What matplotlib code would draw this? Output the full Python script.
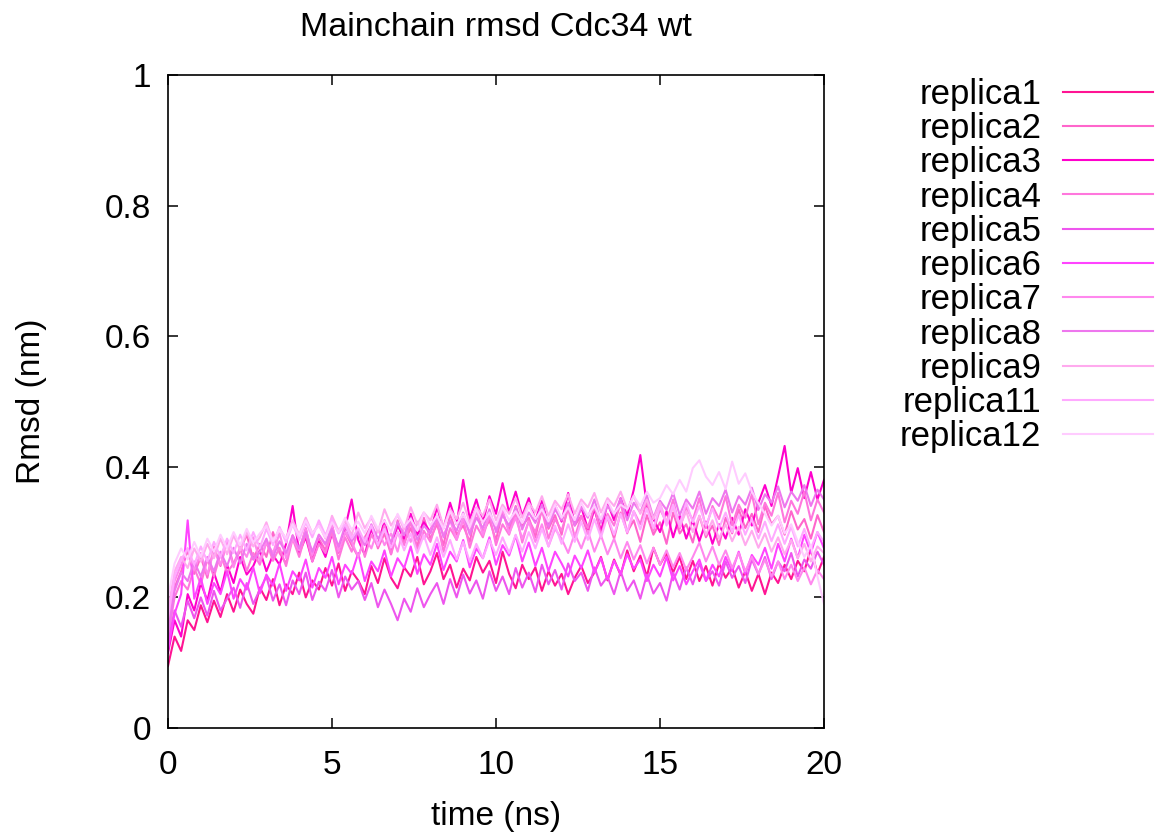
import numpy as np
import matplotlib
matplotlib.use("Agg")
import matplotlib.pyplot as plt

plt.rcParams['font.family'] = ['Liberation Sans', 'DejaVu Sans']
plt.rcParams['font.size'] = 24

# backbone rmsd (nm), one frame every 0.2 ns from 0 to 20 ns
time_ns = np.arange(101) * 0.2

replica1 = [
    0.095, 0.140, 0.118, 0.165, 0.150, 0.188, 0.162, 0.195, 0.170, 0.205,
    0.178, 0.212, 0.190, 0.175, 0.215, 0.196, 0.228, 0.188, 0.220, 0.205,
    0.238, 0.200, 0.226, 0.212, 0.245, 0.218, 0.252, 0.210, 0.240, 0.226,
    0.205, 0.248, 0.222, 0.260, 0.230, 0.214, 0.246, 0.232, 0.262, 0.220,
    0.240, 0.268, 0.228, 0.250, 0.215, 0.244, 0.226, 0.262, 0.238, 0.256,
    0.222, 0.270, 0.236, 0.214, 0.250, 0.228, 0.246, 0.210, 0.240, 0.218,
    0.236, 0.205, 0.230, 0.248, 0.222, 0.238, 0.262, 0.226, 0.258, 0.234,
    0.272, 0.240, 0.264, 0.232, 0.276, 0.250, 0.268, 0.238, 0.262, 0.228,
    0.256, 0.225, 0.248, 0.218, 0.252, 0.230, 0.246, 0.215, 0.240, 0.210,
    0.236, 0.205, 0.238, 0.222, 0.250, 0.228, 0.256, 0.240, 0.275, 0.236,
    0.262]
replica2 = [
    0.150, 0.215, 0.240, 0.272, 0.236, 0.262, 0.230, 0.278, 0.248, 0.285,
    0.250, 0.272, 0.296, 0.258, 0.282, 0.262, 0.300, 0.268, 0.252, 0.295,
    0.272, 0.306, 0.262, 0.290, 0.272, 0.312, 0.268, 0.300, 0.280, 0.262,
    0.292, 0.310, 0.275, 0.298, 0.266, 0.318, 0.284, 0.306, 0.278, 0.322,
    0.290, 0.312, 0.280, 0.328, 0.296, 0.310, 0.285, 0.335, 0.300, 0.318,
    0.288, 0.330, 0.302, 0.340, 0.310, 0.322, 0.292, 0.336, 0.305, 0.326,
    0.296, 0.342, 0.310, 0.325, 0.298, 0.336, 0.304, 0.322, 0.290, 0.330,
    0.300, 0.318, 0.285, 0.326, 0.296, 0.315, 0.282, 0.330, 0.298, 0.312,
    0.284, 0.325, 0.292, 0.310, 0.280, 0.322, 0.298, 0.335, 0.306, 0.328,
    0.300, 0.340, 0.312, 0.325, 0.296, 0.332, 0.304, 0.320, 0.290, 0.326,
    0.300]
replica3 = [
    0.115, 0.165, 0.140, 0.205, 0.180, 0.222, 0.195, 0.238, 0.208, 0.250,
    0.222, 0.262, 0.235, 0.248, 0.272, 0.240, 0.265, 0.250, 0.282, 0.340,
    0.268, 0.292, 0.255, 0.285, 0.262, 0.298, 0.270, 0.306, 0.350, 0.288,
    0.265, 0.305, 0.280, 0.318, 0.275, 0.310, 0.290, 0.328, 0.296, 0.315,
    0.300, 0.338, 0.306, 0.345, 0.312, 0.380, 0.320, 0.350, 0.315, 0.355,
    0.328, 0.375, 0.330, 0.362, 0.325, 0.352, 0.318, 0.348, 0.310, 0.342,
    0.316, 0.360, 0.312, 0.338, 0.305, 0.335, 0.300, 0.345, 0.318, 0.352,
    0.325, 0.365, 0.418, 0.340, 0.320, 0.300, 0.332, 0.292, 0.325, 0.290,
    0.318, 0.286, 0.316, 0.282, 0.312, 0.290, 0.322, 0.296, 0.335, 0.310,
    0.345, 0.372, 0.340, 0.385, 0.432, 0.360, 0.398, 0.352, 0.392, 0.350,
    0.380]
replica4 = [
    0.140, 0.200, 0.225, 0.212, 0.245, 0.220, 0.258, 0.232, 0.266, 0.238,
    0.252, 0.275, 0.240, 0.268, 0.250, 0.285, 0.256, 0.276, 0.248, 0.290,
    0.262, 0.298, 0.255, 0.282, 0.268, 0.300, 0.258, 0.292, 0.270, 0.305,
    0.262, 0.296, 0.278, 0.310, 0.266, 0.300, 0.280, 0.316, 0.272, 0.302,
    0.285, 0.318, 0.270, 0.306, 0.288, 0.320, 0.276, 0.310, 0.292, 0.326,
    0.280, 0.312, 0.296, 0.330, 0.284, 0.318, 0.300, 0.334, 0.290, 0.320,
    0.302, 0.336, 0.292, 0.324, 0.306, 0.340, 0.295, 0.328, 0.310, 0.345,
    0.298, 0.332, 0.312, 0.348, 0.302, 0.335, 0.315, 0.350, 0.305, 0.338,
    0.318, 0.352, 0.306, 0.340, 0.320, 0.355, 0.310, 0.342, 0.322, 0.358,
    0.312, 0.345, 0.325, 0.360, 0.315, 0.348, 0.328, 0.362, 0.318, 0.350,
    0.330]
replica5 = [
    0.130, 0.180, 0.155, 0.195, 0.168, 0.200, 0.172, 0.210, 0.180, 0.198,
    0.215, 0.184, 0.222, 0.190, 0.212, 0.232, 0.195, 0.220, 0.188, 0.226,
    0.205, 0.238, 0.196, 0.224, 0.210, 0.242, 0.200, 0.232, 0.212, 0.225,
    0.196, 0.222, 0.185, 0.212, 0.190, 0.165, 0.198, 0.178, 0.214, 0.185,
    0.205, 0.222, 0.190, 0.228, 0.200, 0.235, 0.206, 0.226, 0.198, 0.240,
    0.210, 0.232, 0.205, 0.245, 0.215, 0.238, 0.208, 0.250, 0.220, 0.242,
    0.212, 0.252, 0.225, 0.238, 0.210, 0.246, 0.218, 0.232, 0.205, 0.240,
    0.210, 0.226, 0.198, 0.235, 0.206, 0.222, 0.195, 0.238, 0.212, 0.246,
    0.220, 0.252, 0.225, 0.240, 0.218, 0.255, 0.230, 0.248, 0.222, 0.258,
    0.235, 0.262, 0.228, 0.255, 0.240, 0.268, 0.232, 0.258, 0.244, 0.270,
    0.250]
replica6 = [
    0.120, 0.175, 0.205, 0.318, 0.198, 0.230, 0.190, 0.222, 0.205, 0.240,
    0.198, 0.228, 0.212, 0.246, 0.206, 0.235, 0.218, 0.252, 0.210, 0.240,
    0.226, 0.258, 0.215, 0.245, 0.230, 0.262, 0.220, 0.250, 0.236, 0.268,
    0.225, 0.255, 0.240, 0.272, 0.232, 0.260, 0.245, 0.278, 0.236, 0.266,
    0.250, 0.282, 0.242, 0.270, 0.255, 0.288, 0.246, 0.275, 0.260, 0.292,
    0.250, 0.280, 0.264, 0.295, 0.255, 0.284, 0.248, 0.276, 0.240, 0.270,
    0.252, 0.232, 0.264, 0.245, 0.272, 0.238, 0.260, 0.228, 0.256, 0.236,
    0.266, 0.244, 0.258, 0.225, 0.250, 0.232, 0.262, 0.226, 0.248, 0.220,
    0.240, 0.258, 0.226, 0.250, 0.232, 0.262, 0.240, 0.270, 0.236, 0.265,
    0.250, 0.276, 0.244, 0.282, 0.255, 0.290, 0.260, 0.296, 0.268, 0.300,
    0.275]
replica7 = [
    0.160, 0.225, 0.250, 0.275, 0.242, 0.268, 0.235, 0.272, 0.250, 0.285,
    0.246, 0.278, 0.262, 0.292, 0.255, 0.285, 0.268, 0.298, 0.260, 0.290,
    0.272, 0.305, 0.265, 0.296, 0.280, 0.310, 0.270, 0.300, 0.285, 0.262,
    0.292, 0.275, 0.305, 0.280, 0.298, 0.270, 0.310, 0.285, 0.316, 0.290,
    0.302, 0.325, 0.295, 0.318, 0.288, 0.320, 0.300, 0.332, 0.296, 0.325,
    0.305, 0.335, 0.298, 0.322, 0.290, 0.316, 0.285, 0.312, 0.278, 0.305,
    0.290, 0.268, 0.298, 0.275, 0.302, 0.270, 0.295, 0.266, 0.290, 0.260,
    0.285, 0.258, 0.280, 0.252, 0.276, 0.250, 0.272, 0.246, 0.268, 0.242,
    0.262, 0.284, 0.255, 0.278, 0.250, 0.272, 0.245, 0.268, 0.240, 0.262,
    0.236, 0.258, 0.232, 0.255, 0.228, 0.250, 0.225, 0.246, 0.220, 0.242,
    0.228]
replica8 = [
    0.145, 0.210, 0.238, 0.225, 0.255, 0.232, 0.262, 0.240, 0.270, 0.248,
    0.276, 0.252, 0.282, 0.258, 0.270, 0.290, 0.262, 0.286, 0.268, 0.295,
    0.275, 0.300, 0.270, 0.296, 0.282, 0.305, 0.278, 0.310, 0.286, 0.300,
    0.280, 0.312, 0.290, 0.305, 0.284, 0.315, 0.295, 0.322, 0.288, 0.310,
    0.298, 0.325, 0.292, 0.318, 0.302, 0.330, 0.296, 0.322, 0.306, 0.335,
    0.300, 0.326, 0.310, 0.338, 0.304, 0.330, 0.314, 0.342, 0.308, 0.335,
    0.318, 0.345, 0.310, 0.338, 0.322, 0.350, 0.314, 0.340, 0.326, 0.352,
    0.318, 0.345, 0.330, 0.356, 0.322, 0.348, 0.334, 0.360, 0.326, 0.350,
    0.336, 0.362, 0.328, 0.352, 0.340, 0.365, 0.330, 0.355, 0.342, 0.368,
    0.334, 0.358, 0.345, 0.370, 0.338, 0.362, 0.348, 0.372, 0.340, 0.365,
    0.350]
replica9 = [
    0.180, 0.240, 0.262, 0.245, 0.275, 0.255, 0.282, 0.260, 0.290, 0.266,
    0.295, 0.272, 0.300, 0.278, 0.292, 0.315, 0.285, 0.305, 0.290, 0.318,
    0.296, 0.322, 0.298, 0.312, 0.290, 0.325, 0.302, 0.318, 0.295, 0.330,
    0.306, 0.322, 0.300, 0.335, 0.310, 0.326, 0.304, 0.338, 0.312, 0.330,
    0.318, 0.342, 0.308, 0.335, 0.320, 0.345, 0.314, 0.338, 0.325, 0.350,
    0.318, 0.342, 0.328, 0.352, 0.322, 0.345, 0.330, 0.355, 0.325, 0.348,
    0.335, 0.358, 0.328, 0.350, 0.338, 0.360, 0.330, 0.352, 0.340, 0.362,
    0.335, 0.356, 0.328, 0.350, 0.320, 0.345, 0.315, 0.338, 0.308, 0.332,
    0.300, 0.325, 0.296, 0.318, 0.290, 0.312, 0.286, 0.308, 0.280, 0.302,
    0.276, 0.298, 0.270, 0.292, 0.266, 0.288, 0.260, 0.282, 0.255, 0.278,
    0.268]
replica11 = [
    0.170, 0.232, 0.258, 0.275, 0.250, 0.278, 0.255, 0.285, 0.262, 0.290,
    0.268, 0.296, 0.272, 0.300, 0.276, 0.305, 0.280, 0.308, 0.284, 0.312,
    0.288, 0.315, 0.292, 0.318, 0.295, 0.320, 0.298, 0.312, 0.290, 0.306,
    0.285, 0.310, 0.280, 0.305, 0.276, 0.300, 0.272, 0.298, 0.268, 0.295,
    0.265, 0.292, 0.262, 0.288, 0.258, 0.285, 0.255, 0.282, 0.260, 0.288,
    0.265, 0.292, 0.268, 0.296, 0.270, 0.300, 0.275, 0.305, 0.278, 0.310,
    0.282, 0.312, 0.285, 0.316, 0.288, 0.320, 0.292, 0.324, 0.296, 0.328,
    0.300, 0.332, 0.304, 0.336, 0.306, 0.340, 0.310, 0.342, 0.312, 0.345,
    0.315, 0.340, 0.310, 0.336, 0.306, 0.330, 0.300, 0.326, 0.296, 0.320,
    0.290, 0.316, 0.286, 0.312, 0.282, 0.308, 0.278, 0.305, 0.275, 0.300,
    0.285]
replica12 = [
    0.200, 0.252, 0.275, 0.258, 0.285, 0.262, 0.290, 0.270, 0.296, 0.275,
    0.300, 0.280, 0.305, 0.284, 0.298, 0.310, 0.286, 0.305, 0.290, 0.312,
    0.295, 0.318, 0.298, 0.310, 0.292, 0.315, 0.300, 0.322, 0.304, 0.316,
    0.298, 0.325, 0.305, 0.318, 0.300, 0.328, 0.308, 0.320, 0.302, 0.330,
    0.310, 0.325, 0.305, 0.332, 0.312, 0.328, 0.308, 0.335, 0.315, 0.330,
    0.310, 0.338, 0.318, 0.332, 0.314, 0.340, 0.320, 0.335, 0.316, 0.342,
    0.322, 0.338, 0.318, 0.345, 0.325, 0.340, 0.320, 0.348, 0.328, 0.342,
    0.335, 0.355, 0.340, 0.362, 0.345, 0.352, 0.372, 0.358, 0.380, 0.362,
    0.398, 0.410, 0.385, 0.372, 0.392, 0.366, 0.408, 0.374, 0.390, 0.362,
    0.344, 0.328, 0.310, 0.325, 0.298, 0.312, 0.285, 0.262, 0.280, 0.232,
    0.190]

labels = ['replica1', 'replica2', 'replica3', 'replica4', 'replica5', 'replica6',
          'replica7', 'replica8', 'replica9', 'replica11', 'replica12']
series = [replica1, replica2, replica3, replica4, replica5, replica6,
          replica7, replica8, replica9, replica11, replica12]
colors = ['#ff1493', '#ff66cc', '#ff00cc', '#ff77dd', '#ee55ee', '#ff44ff',
          '#ff88ee', '#ee77ee', '#ffaaee', '#ffaaff', '#ffccff']

fig = plt.figure(figsize=(11.58, 8.4), dpi=100)
ax = fig.add_axes([168 / 1158, 1 - 728 / 840, 656 / 1158, 653 / 840])

for y, c, lab in zip(series, colors, labels):
    ax.plot(time_ns, y, color=c, lw=1.5, label=lab)

ax.set_xlim(0, 20)
ax.set_ylim(0, 1)
ax.set_xticks([0, 5, 10, 15, 20])
ax.set_yticks([0, 0.2, 0.4, 0.6, 0.8, 1.0])
ax.set_yticklabels(['0', '0.2', '0.4', '0.6', '0.8', '1'])
ax.tick_params(direction='in', length=7, width=1.1, top=True, right=True)
ax.tick_params(axis='x', pad=16)
ax.tick_params(axis='y', pad=12)
for sp in ax.spines.values():
    sp.set_linewidth(1.2)

ax.set_xlabel('time (ns)', labelpad=14)
ax.set_ylabel('Rmsd (nm)', labelpad=42)
ax.set_title('Mainchain rmsd Cdc34 wt', fontsize=24.5, pad=28)

ax.legend(loc='upper right', bbox_to_anchor=(1153 / 1158, 1 - 78 / 840),
          bbox_transform=fig.transFigure, frameon=False, markerfirst=False,
          fontsize=25, handlelength=2.6, handletextpad=0.62, labelspacing=0.035,
          borderpad=0, borderaxespad=0)

fig.savefig('out.png', dpi=100)
